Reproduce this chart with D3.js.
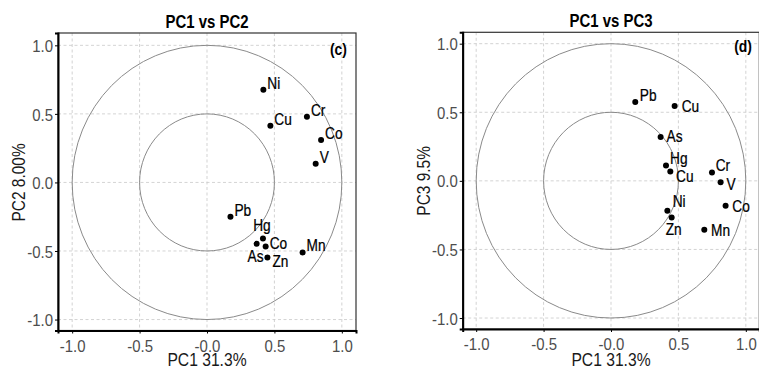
<!DOCTYPE html>
<html>
<head>
<meta charset="utf-8">
<script src="https://cdn.jsdelivr.net/npm/d3@7"></script>
<style>
  html, body { margin: 0; padding: 0; background: #fff; }
  svg { display: block; }
  text { font-family: "Liberation Sans", Arial, sans-serif; }
</style>
</head>
<body>
<svg id="chart" width="759" height="369"></svg>
<script>
// Loadings on the first three principal components
const varsC = ["Ni", "Cu", "Cr", "Co", "V", "Pb", "Hg", "As", "Co", "Zn", "Mn"];
const pc1C  = [0.418, 0.470, 0.741, 0.846, 0.806, 0.174, 0.415, 0.368, 0.435, 0.448, 0.709];
const pc2C  = [0.676, 0.414, 0.479, 0.309, 0.136, -0.251, -0.409, -0.448, -0.467, -0.547, -0.511];

const varsD = ["Pb", "Cu", "As", "Hg", "Cu", "Cr", "V", "Co", "Ni", "Zn", "Mn"];
const pc1D  = [0.180, 0.472, 0.368, 0.408, 0.440, 0.749, 0.813, 0.850, 0.418, 0.450, 0.692];
const pc3D  = [0.575, 0.546, 0.320, 0.112, 0.068, 0.061, -0.010, -0.182, -0.218, -0.267, -0.357];

const tickValues = [-1.0, -0.5, 0.0, 0.5, 1.0];
const tickLabels = ["-1.0", "-0.5", "-0.0", "0.5", "1.0"];
const yTickLabels = ["-1.0", "-0.5", "0.0", "0.5", "1.0"];
const circleRadii = [1.0, 0.5];

// Label placement beside each point: [anchor, dx, dy] in pixels
const labelPlaceC = [
  ["start", 4, -1], ["start", 4, -1], ["start", 4, -1], ["start", 4, -1], ["start", 4, -1],
  ["start", 4, -1], ["middle", -1, -7.5], ["middle", -1, 18], ["start", 4, 2.6],
  ["start", 5, 10], ["start", 4, -1]
];
const labelPlaceD = [
  ["start", 4.5, -1.3], ["start", 7, 5.7], ["start", 6, 4.7], ["start", 4, -1.7],
  ["start", 5.7, 10], ["start", 3.7, -1], ["start", 6, 7.7], ["start", 6.7, 5.7],
  ["start", 5.3, -3.3], ["middle", 2, 17.3], ["start", 6.7, 5.7]
];

const svg = d3.select("#chart");

// Narrow the glyphs of a text selection horizontally (condensed face look)
function condense(sel, k) {
  sel.each(function () {
    const t = d3.select(this);
    const x = +(t.attr("x") || 0);
    const prev = t.attr("transform") || "";
    t.attr("x", x / k).attr("transform", (prev ? prev + " " : "") + `scale(${k},1)`);
  });
}

function panel(opts) {
  const { xs, ys, names, place, xRange, yRange, xDomain, yDomain,
          title, titleY, tag, tagX, tagY, xTitle, yTitle, yTitleX } = opts;
  const x = d3.scaleLinear().domain(xDomain).range(xRange);
  const y = d3.scaleLinear().domain(yDomain).range(yRange);
  const id = "clip" + tag.replace(/\W/g, "");

  svg.append("clipPath").attr("id", id)
    .append("rect")
    .attr("x", xRange[0]).attr("y", yRange[1])
    .attr("width", xRange[1] - xRange[0]).attr("height", yRange[0] - yRange[1]);

  const g = svg.append("g");
  const inner = g.append("g").attr("clip-path", `url(#${id})`);

  // dashed grid at major breaks
  inner.selectAll(".gx").data(tickValues).join("line")
    .attr("x1", d => x(d)).attr("x2", d => x(d))
    .attr("y1", yRange[1]).attr("y2", yRange[0])
    .attr("stroke", "#c8c8c8").attr("stroke-width", 0.8).attr("stroke-dasharray", "3,2.5");
  inner.selectAll(".gy").data(tickValues).join("line")
    .attr("y1", d => y(d)).attr("y2", d => y(d))
    .attr("x1", xRange[0]).attr("x2", xRange[1])
    .attr("stroke", "#c8c8c8").attr("stroke-width", 0.8).attr("stroke-dasharray", "3,2.5");

  // correlation circles
  inner.selectAll("ellipse").data(circleRadii).join("ellipse")
    .attr("cx", x(0)).attr("cy", y(0))
    .attr("rx", r => x(r) - x(0)).attr("ry", r => y(0) - y(r))
    .attr("fill", "none").attr("stroke", "#8a8a8a").attr("stroke-width", 1);

  // points
  inner.selectAll("circle.pt").data(xs).join("circle")
    .attr("class", "pt")
    .attr("cx", d => x(d)).attr("cy", (d, i) => y(ys[i]))
    .attr("r", 3).attr("fill", "#000");

  // labels
  const labs = inner.selectAll("text.lab").data(names).join("text")
    .attr("class", "lab")
    .attr("x", (d, i) => x(xs[i]) + place[i][1])
    .attr("y", (d, i) => y(ys[i]) + place[i][2])
    .attr("text-anchor", (d, i) => place[i][0])
    .attr("font-size", 16.5).attr("fill", "#000")
    .attr("stroke", "#000").attr("stroke-width", 0.25)
    .text(d => d);
  condense(labs, 0.83);

  // panel border
  g.append("rect")
    .attr("x", xRange[0]).attr("y", yRange[1])
    .attr("width", xRange[1] - xRange[0]).attr("height", yRange[0] - yRange[1])
    .attr("fill", "none").attr("stroke", "#333").attr("stroke-width", 1.2);

  // axes
  const xAxis = d3.axisBottom(x).tickValues(tickValues)
    .tickFormat((d, i) => tickLabels[i]).tickSize(3);
  const gx = g.append("g").attr("transform", `translate(0,${yRange[0]})`).call(xAxis);
  gx.select(".domain").attr("stroke", "#000").attr("stroke-width", 2);
  gx.selectAll(".tick line").attr("stroke", "#000").attr("stroke-width", 1);
  const xt = gx.selectAll(".tick text").attr("font-size", 17).attr("fill", "#4d4d4d")
    .attr("font-family", null).attr("y", 21.5).attr("dy", null);
  condense(xt, 0.88);

  const yAxis = d3.axisLeft(y).tickValues(tickValues)
    .tickFormat((d, i) => yTickLabels[i]).tickSize(3).tickPadding(2);
  const gy = g.append("g").attr("transform", `translate(${xRange[0]},0)`).call(yAxis);
  gy.select(".domain").attr("stroke", "#000").attr("stroke-width", 2);
  gy.selectAll(".tick line").attr("stroke", "#000").attr("stroke-width", 1);
  const yt = gy.selectAll(".tick text").attr("font-size", 17).attr("fill", "#4d4d4d")
    .attr("font-family", null).attr("dy", "0.36em");
  condense(yt, 0.88);

  // titles
  const tt = g.append("text").attr("x", x(0)).attr("y", titleY)
    .attr("text-anchor", "middle").attr("font-size", 18).attr("font-weight", "bold")
    .text(title);
  condense(tt, 0.83);
  const tg = g.append("text").attr("x", tagX).attr("y", tagY)
    .attr("text-anchor", "end").attr("font-size", 17).attr("font-weight", "bold")
    .text(tag);
  condense(tg, 0.82);
  const xl = g.append("text").attr("x", x(0)).attr("y", 366.5)
    .attr("text-anchor", "middle").attr("font-size", 18).attr("fill", "#1a1a1a")
    .text(xTitle);
  condense(xl, 0.87);
  const yl = g.append("text")
    .attr("transform", `translate(${yTitleX},${y(0)}) rotate(-90)`)
    .attr("text-anchor", "middle").attr("font-size", 18).attr("fill", "#1a1a1a")
    .text(yTitle);
  condense(yl, 0.86);
}

panel({
  xs: pc1C, ys: pc2C, names: varsC, place: labelPlaceC,
  xRange: [58, 356], yRange: [330.5, 33],
  xDomain: [-1.105, 1.105], yDomain: [-1.08, 1.09],
  title: "PC1 vs PC2", titleY: 28, tag: "(c)", tagX: 347, tagY: 55,
  xTitle: "PC1 31.3%", yTitle: "PC2 8.00%", yTitleX: 25
});

panel({
  xs: pc1D, ys: pc3D, names: varsD, place: labelPlaceD,
  xRange: [462.7, 759.3], yRange: [329, 32.3],
  xDomain: [-1.1, 1.1], yDomain: [-1.08, 1.083],
  title: "PC1 vs PC3", titleY: 27, tag: "(d)", tagX: 752, tagY: 52,
  xTitle: "PC1 31.3%", yTitle: "PC3 9.5%", yTitleX: 430
});
</script>
</body>
</html>
